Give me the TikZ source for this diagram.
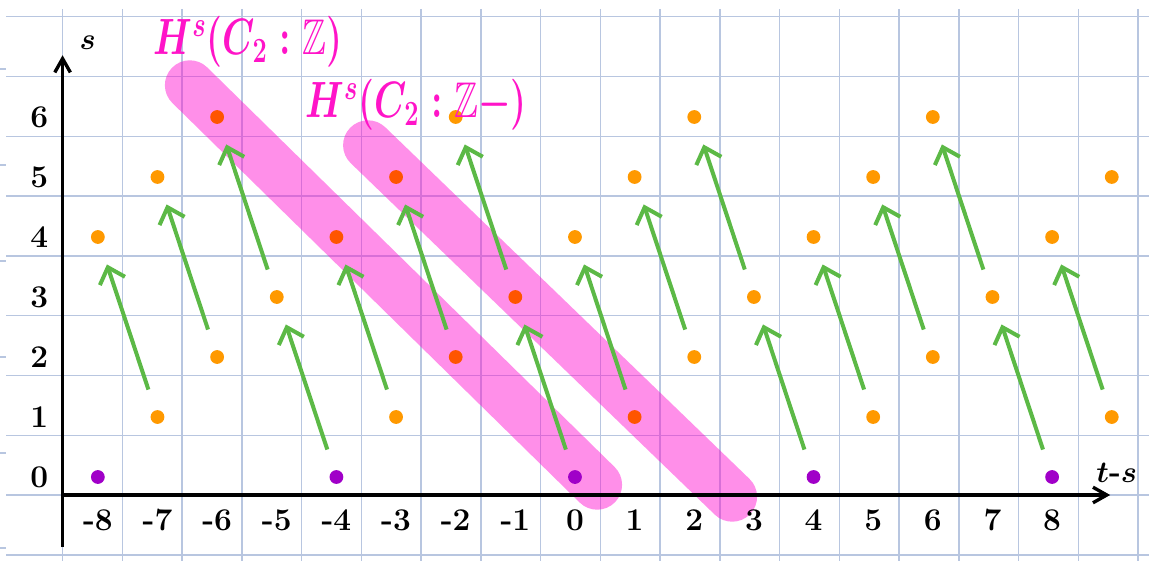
\documentclass[tikz,border=0pt]{standalone}
\usepackage{amsmath, amssymb}
\usepackage{fontspec}
\usepackage{tikz}
\usetikzlibrary{positioning,arrows.meta}

\definecolor{gridblue}{RGB}{184,198,224}
\definecolor{bandpink}{RGB}{255,0,205}
\definecolor{labelpink}{RGB}{255,20,200}
\definecolor{dotorange}{RGB}{255,153,0}
\definecolor{dotred}{RGB}{255,85,0}
\definecolor{dotpurple}{RGB}{160,0,200}
\definecolor{diffgreen}{RGB}{92,185,70}

\begin{document}
\begin{tikzpicture}[every node/.style={font=\fontsize{15}{18}\selectfont\bfseries},
  gridline/.style={gridblue, line width=0.7pt},
  band/.style={bandpink, opacity=0.44, line width=0.83cm, line cap=round},
  axis/.style={line width=1.6pt, -{Straight Barb[length=2.3mm,width=2.6mm]}},
  dot/.style={circle, inner sep=0pt, minimum size=0.23cm},
  diff/.style={diffgreen, line width=1.9pt, -{Straight Barb[length=2.4mm,width=4.4mm]},
    shorten <=0.36cm, shorten >=0.36cm},
  hlabel/.style={labelpink, font=\fontsize{17}{20}\selectfont\boldmath, yscale=1.4, transform shape}]
  \useasboundingbox (-9.583,-1.4) rectangle (9.567,7.95);

  % grid paper
  \foreach \k in {0,...,18}
    \draw[gridline] ({-8.538+0.9958*\k},7.8) -- ({-8.538+0.9958*\k},-1.4);
  \foreach \k in {0,...,9}
    \draw[gridline] (-9.48,{7.672-0.9967*\k}) -- (9.567,{7.672-0.9967*\k});
  \foreach \y in {6.8,5.2,3.6,2.0,0.4,-1.18}
    \draw[gridline] (-9.583,\y) -- (-9.48,\y);

  % highlighted diagonals
  \coordinate (zstart) at (-6.42,6.53);
  \coordinate (zend) at (0.37,-0.13);
  \coordinate (zmstart) at (-3.45,5.53);
  \coordinate (zmend) at (2.62,-0.33);
  \draw[band] (zstart) -- (zend);
  \draw[band] (zmstart) -- (zmend);

  % axes
  \coordinate (origin) at (-8.54,-0.3);
  \coordinate (ybot) at (-8.54,-1.17);
  \coordinate (ytop) at (-8.54,7.03);
  \coordinate (xend) at (8.92,-0.3);
  \draw[axis] (ybot) -- (ytop);
  \draw[axis] (origin) -- (xend);
  \node (slab) at (-8.12,7.23) {$\boldsymbol{s}$};
  \node (tslab) at (9.03,0.07) {$\boldsymbol{t}$-$\boldsymbol{s}$};
  \foreach \s in {0,...,6}
    \node (ylab\s) at (-8.93,\s) {\s};
  \foreach \n in {-8,...,8}
    \node (xlab\n) at ({0.994*\n},-0.72) {\n};

  % dots
  \foreach \n/\s in {-8/0,-4/0,0/0,4/0,8/0}
    \node[dot, fill=dotpurple] (p\n s\s) at ({0.994*\n},\s) {};
  \foreach \n/\s in {-6/6,-4/4,-2/2,-3/5,-1/3,1/1}
    \node[dot, fill=dotred] (p\n s\s) at ({0.994*\n},\s) {};
  \foreach \n/\s in {-7/1,-3/1,5/1,9/1,-6/2,2/2,6/2,-5/3,3/3,7/3,
                     -8/4,0/4,4/4,8/4,-7/5,1/5,5/5,9/5,-2/6,2/6,6/6}
    \node[dot, fill=dotorange] (p\n s\s) at ({0.994*\n},\s) {};

  % d3 differentials
  \foreach \n/\s in {-4/0,0/0,4/0,8/0,-7/1,-3/1,1/1,5/1,9/1,
                     -6/2,-2/2,2/2,6/2,-5/3,-1/3,3/3,7/3} {
    \pgfmathtruncatemacro\m{\n-1}
    \pgfmathtruncatemacro\t{\s+3}
    \draw[diff] (p\n s\s) -- (p\m s\t);
  }

  \node[hlabel] (hplus) at (-5.45,7.25) {$H^s(C_2:\mathbb{Z})$};
  \node[hlabel] (hminus) at (-2.65,6.2) {$H^s(C_2:\mathbb{Z}{-})$};
\end{tikzpicture}
\end{document}
